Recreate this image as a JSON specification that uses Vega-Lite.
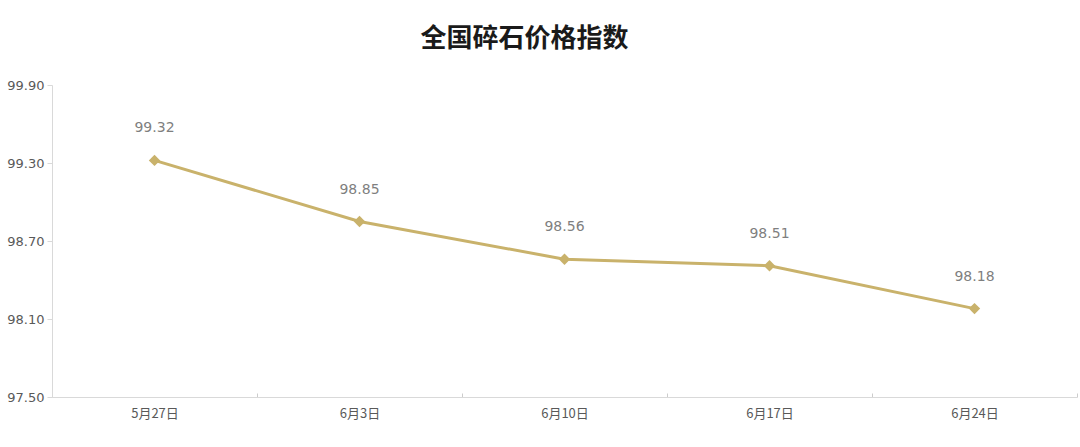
{
  "$schema": "https://vega.github.io/schema/vega-lite/v6.json",
  "autosize": {"type": "none"},
  "width": 1025,
  "height": 312,
  "padding": {"left": 52, "top": 85, "right": 3, "bottom": 50},
  "background": "white",
  "title": {
    "text": "全国碎石价格指数",
    "font": "Noto Sans CJK SC",
    "fontSize": 26,
    "fontWeight": "bold",
    "color": "#1a1a1a",
    "anchor": "middle",
    "dx": -40,
    "offset": 27
  },
  "data": {
    "values": [
      {"date": "5月27日", "value": 99.32},
      {"date": "6月3日", "value": 98.85},
      {"date": "6月10日", "value": 98.56},
      {"date": "6月17日", "value": 98.51},
      {"date": "6月24日", "value": 98.18}
    ]
  },
  "encoding": {
    "x": {
      "field": "date",
      "type": "ordinal",
      "sort": null,
      "scale": {"paddingInner": 0, "paddingOuter": 0},
      "axis": {
        "title": null,
        "labelAngle": 0,
        "labelFont": "Noto Sans CJK SC",
        "labelFontSize": 13,
        "labelColor": "#595959",
        "labelPadding": 14,
        "domainColor": "#d9d9d9",
        "tickColor": "#cccccc",
        "tickSize": -4,
        "tickBand": "extent",
        "grid": false
      }
    },
    "y": {
      "field": "value",
      "type": "quantitative",
      "scale": {"domain": [97.5, 99.9], "nice": false, "zero": false},
      "axis": {
        "title": null,
        "values": [97.5, 98.1, 98.7, 99.3, 99.9],
        "format": ".2f",
        "labelFont": "Verdana, DejaVu Sans",
        "labelFontSize": 13,
        "labelColor": "#595959",
        "labelPadding": 3,
        "domainColor": "#d9d9d9",
        "tickColor": "#d9d9d9",
        "tickSize": 5,
        "grid": false
      }
    }
  },
  "layer": [
    {
      "mark": {"type": "line", "color": "#C9B26B", "strokeWidth": 3}
    },
    {
      "mark": {"type": "point", "shape": "diamond", "filled": true, "color": "#C9B26B", "size": 130, "opacity": 1}
    },
    {
      "mark": {"type": "text", "dy": -32, "font": "Verdana, DejaVu Sans", "fontSize": 14, "color": "#7f7f7f"},
      "encoding": {"text": {"field": "value", "type": "quantitative", "format": ".2f"}}
    }
  ],
  "config": {"view": {"stroke": null}}
}
